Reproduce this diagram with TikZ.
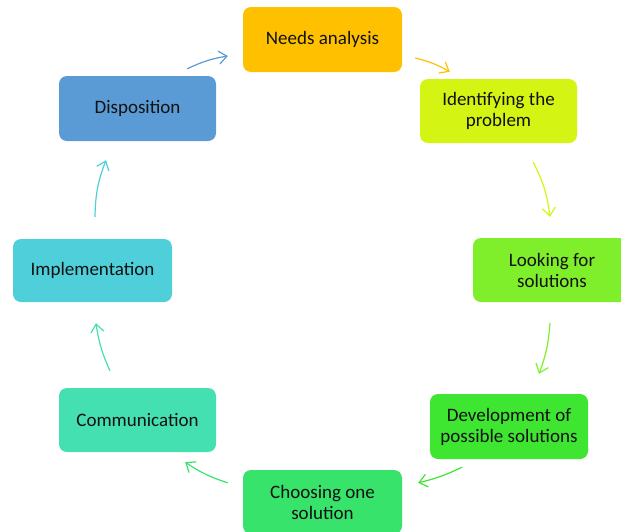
\documentclass[tikz,border=0pt]{standalone}
\usepackage{fontspec}
\setmainfont{Carlito}
\usetikzlibrary{arrows.meta,calc}

\definecolor{cNeed}{HTML}{FFC000}
\definecolor{cIdent}{HTML}{D4F513}
\definecolor{cLook}{HTML}{7FEE2B}
\definecolor{cDev}{HTML}{3EE632}
\definecolor{cChoose}{HTML}{38E36C}
\definecolor{cComm}{HTML}{45E0B2}
\definecolor{cImpl}{HTML}{4ECFD9}
\definecolor{cDis}{HTML}{5B9BD5}
\definecolor{txt}{HTML}{111111}

\tikzset{
  stage/.style={rounded corners=8pt, minimum width=158pt, minimum height=64pt,
    inner sep=0pt, align=center, text=txt,
    font=\fontsize{19}{21}\selectfont},
  flow/.style={line width=1.2pt, -{Straight Barb[length=8pt,width=13pt]}},
}

\begin{document}
\begin{tikzpicture}[x=1pt,y=-1pt]
  \useasboundingbox (0,0) rectangle (621,531);
  \clip (0,0) rectangle (621,531);

  % process stages, clockwise from the top
  \node[stage, fill=cNeed,   minimum width=159pt, minimum height=65pt] (need)   at (322.5,39.5) {Needs analysis};
  \node[stage, fill=cIdent,  minimum width=157pt] (ident)  at (498.5,111)   {Identifying the\\problem};
  \node[stage, fill=cLook]                        (look)   at (552,270)     {Looking for\\solutions};
  \node[stage, fill=cDev,    minimum height=65pt] (dev)    at (509,426.5)   {Development of\\possible solutions};
  \node[stage, fill=cChoose, minimum width=159pt] (choose) at (322.5,502)   {Choosing one\\solution};
  \node[stage, fill=cComm,   minimum width=157pt] (comm)   at (137.5,420)   {Communication};
  \node[stage, fill=cImpl,   minimum width=159pt, minimum height=63pt] (impl) at (92.5,270.5) {Implementation};
  \node[stage, fill=cDis,    minimum width=157pt, minimum height=65pt] (dis)  at (137.5,108.5) {Disposition};

  % cycle arrows
  \draw[flow, cDis]    ($(dis.north east)+(-29,-7)$)      to[bend left=8]  ($(need.west)+(-15,16.5)$);
  \draw[flow, cNeed]   ($(need.east)+(13,18.5)$)          to[bend left=8]  ($(ident.north west)+(30,-7)$);
  \draw[flow, cIdent]  ($(ident.south east)+(-44,19)$)    to[bend left=10] ($(look.north)+(-2,-21)$);
  \draw[flow, cLook]   ($(look.south)+(-2,21)$)           to[bend left=8]  ($(dev.north)+(30,-20)$);
  \draw[flow, cDev]    ($(dev.south)+(-47,8)$)            to[bend left=6]  ($(choose.north east)+(16,13)$);
  \draw[flow, cChoose] ($(choose.north west)+(-15,13)$)   to[bend left=8]  ($(comm.south east)+(-31,10)$);
  \draw[flow, cComm]   ($(comm.north)+(-27.5,-17)$)       to[bend left=8]  ($(impl.south)+(3.5,21)$);
  \draw[flow, cImpl]   ($(impl.north)+(2.5,-22)$)         to[bend left=10] ($(dis.south)+(-31.5,19)$);
\end{tikzpicture}
\end{document}
